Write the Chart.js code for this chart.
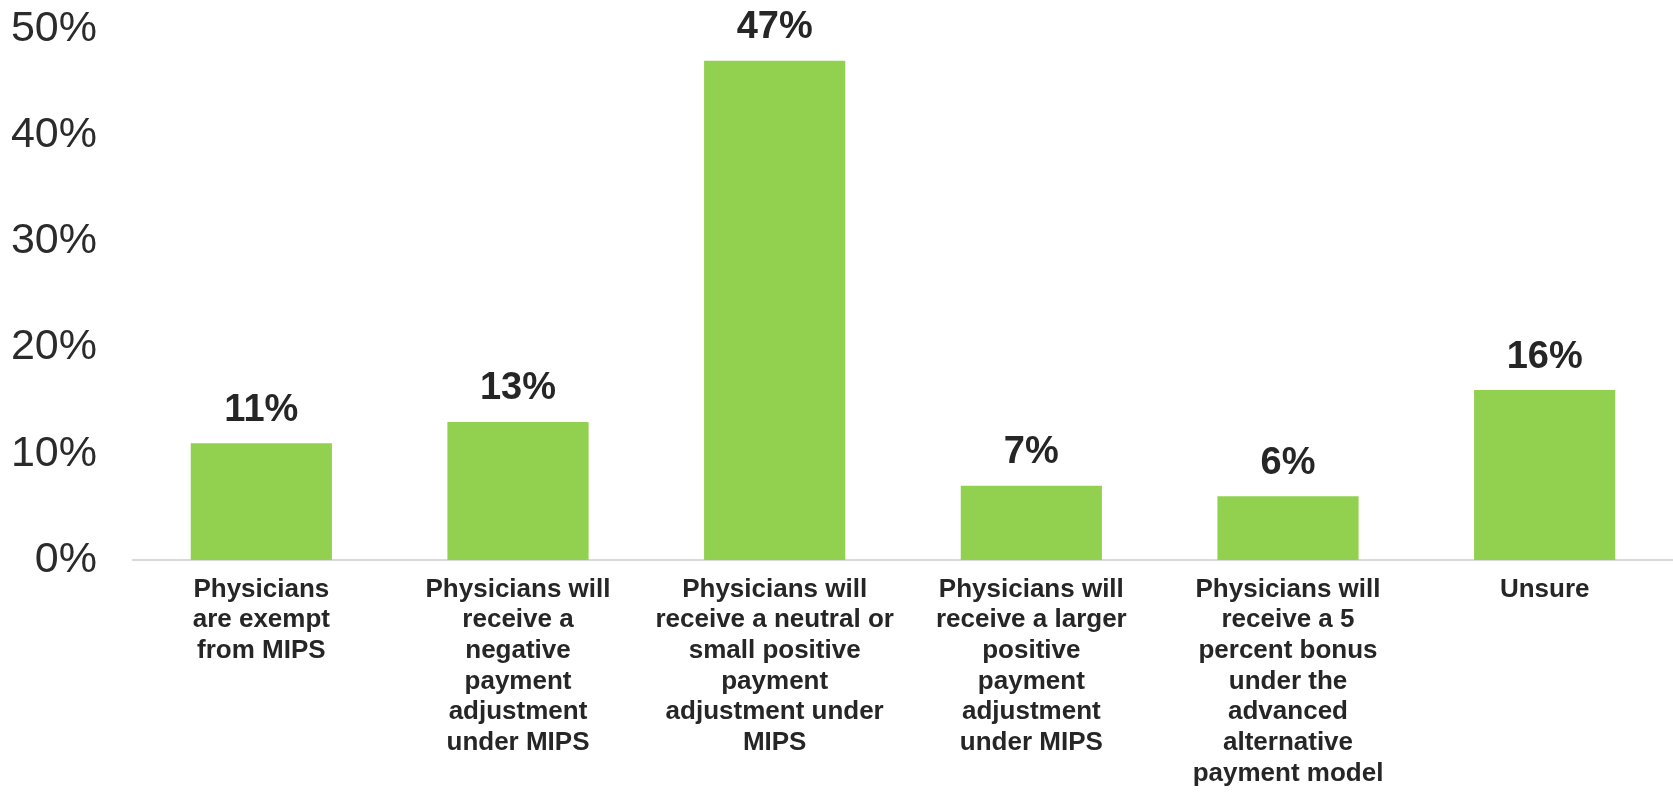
<!DOCTYPE html>
<html>
	<head>
		<title>MIPS payment expectations</title>
		<meta charset="utf-8"/>
		<script src="https://cdn.jsdelivr.net/npm/chart.js@4.4.1/dist/chart.umd.min.js"></script>
		<style>
			html, body { margin: 0; padding: 0; background: #ffffff; overflow: hidden; }
		</style>
	</head>
	<body>
		<canvas id="mips_chart" width="1673" height="792"></canvas>
		<script>
			// categories (one array of lines per bar)
			const categories = [
				["Physicians", "are exempt", "from MIPS"],
				["Physicians will", "receive a", "negative", "payment", "adjustment", "under MIPS"],
				["Physicians will", "receive a neutral or", "small positive", "payment", "adjustment under", "MIPS"],
				["Physicians will", "receive a larger", "positive", "payment", "adjustment", "under MIPS"],
				["Physicians will", "receive a 5", "percent bonus", "under the", "advanced", "alternative", "payment model"],
				["Unsure"]
			];
			// share of respondents, percent
			const shares = [11, 13, 47, 7, 6, 16];
			const yTicks = [0, 10, 20, 30, 40, 50];

			const fontFamily = "'Liberation Sans', Arial, sans-serif";
			const textColor = '#2b2b2b';

			// draws the "47%" style labels above every bar
			const barValueLabels =
			{
				id: 'barValueLabels',
				afterDatasetsDraw(chart)
				{
					const ctx = chart.ctx;
					const meta = chart.getDatasetMeta(0);
					ctx.save();
					ctx.font = 'bold 38px ' + fontFamily;
					ctx.fillStyle = '#262626';
					ctx.textAlign = 'center';
					ctx.textBaseline = 'middle';
					meta.data.forEach((bar, i) =>
					{
						ctx.fillText(shares[i] + '%', bar.x, bar.y - 33);
					});
					ctx.restore();
				}
			};

			const ctx = document.getElementById('mips_chart').getContext('2d');
			const chart = new Chart(ctx,
			{
				type: 'bar',
				data:
				{
					labels: categories,
					datasets:
					[
						{
							data: shares,
							backgroundColor: '#92D050',
							borderWidth: 0,
							barPercentage: 0.55,
							categoryPercentage: 1.0
						}
					]
				},
				options:
				{
					responsive: false,
					animation: false,
					layout: { padding: { top: 29, right: 0, bottom: 0, left: 0 } },
					plugins:
					{
						legend: { display: false },
						tooltip: { enabled: false }
					},
					scales:
					{
						x:
						{
							grid: { display: false, drawTicks: false },
							border: { display: true, color: '#d9d9d9', width: 2 },
							ticks:
							{
								color: '#262626',
								font: { family: fontFamily, size: 26, weight: 'bold', lineHeight: 1.18 },
								padding: 14,
								maxRotation: 0,
								autoSkip: false
							},
							afterFit(scale) { scale.height = 232; }
						},
						y:
						{
							min: 0,
							max: 50,
							grid: { display: false, drawTicks: false },
							border: { display: false },
							afterBuildTicks(scale) { scale.ticks = yTicks.map(v => ({ value: v })); },
							ticks:
							{
								color: textColor,
								font: { family: fontFamily, size: 43 },
								padding: 36,
								callback: value => value + '%'
							},
							afterFit(scale)
							{
								scale.width = 133;
								scale.paddingTop = 0;
								scale.paddingBottom = 0;
							}
						}
					}
				},
				plugins: [barValueLabels]
			});
		</script>
	</body>
</html>
